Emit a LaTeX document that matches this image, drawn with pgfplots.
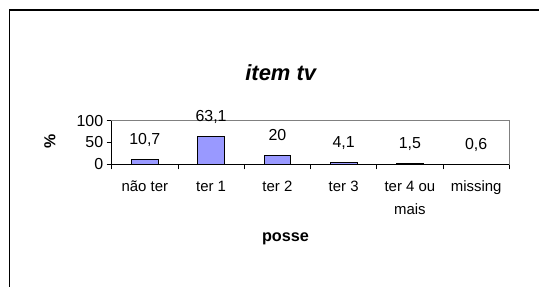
\documentclass[border=0pt]{standalone}
\usepackage{pgfplots}
\pgfplotsset{compat=1.18}
\usepackage{fontspec}
\setmainfont{Liberation Sans}
\definecolor{barblue}{HTML}{9999FF}
\begin{document}
\begin{tikzpicture}[x=1bp,y=1bp]
\useasboundingbox (0,0) rectangle (539,286);
\clip (0,0) rectangle (539,286);
\fill[white] (0,0) rectangle (539,286);
\draw[line width=1.3bp] (9.3,-10) -- (9.3,276) -- (600,276);
\begin{axis}[
  at={(111.7bp,121.7bp)}, anchor=south west,
  scale only axis, width=397.6bp, height=43.6bp,
  xmin=-0.5, xmax=5.5, ymin=0, ymax=100,
  axis line style={draw=gray, line width=0.8bp},
  tick pos=left,
  tick align=outside,
  major tick length=5bp,
  tick style={black, line width=0.8bp},
  xtick={-0.5,0.5,...,5.5},
  x tick label as interval,
  xticklabels={n\~ao ter, ter 1, ter 2, ter 3, {ter 4 ou\\[2.5bp]mais}, missing},
  ytick={0,50,100},
  ybar, bar width=26.7bp,
  clip=false,
  nodes near coords,
  every node near coord/.append style={anchor=base, yshift=15bp, font=\fontsize{16}{16}\selectfont, inner sep=0pt},
  /pgf/number format/use comma,
  /pgf/number format/assume math mode=true,
  x tick label style={font=\fontsize{15}{20.5}\selectfont, align=center, anchor=north, yshift=-8bp},
  y tick label style={font=\fontsize{16}{16}\selectfont},
]
\addplot[fill=barblue, draw=black, line width=0.8bp] coordinates {(0,10.7) (1,63.1) (2,20) (3,4.1) (4,1.5) (5,0.6)};
\draw[black, line width=1bp] (rel axis cs:0,1) -- (rel axis cs:0,0) -- (rel axis cs:1,0);
\end{axis}
\node[anchor=base, font=\bfseries\itshape\fontsize{22}{22}\selectfont] at (280.7,206) {item tv};
\node[rotate=90, font=\bfseries\fontsize{16}{16}\selectfont] at (50,144.3) {\%};
\node[anchor=base, font=\bfseries\fontsize{16.3}{16}\selectfont] at (285.5,44.3) {posse};
\end{tikzpicture}
\end{document}
